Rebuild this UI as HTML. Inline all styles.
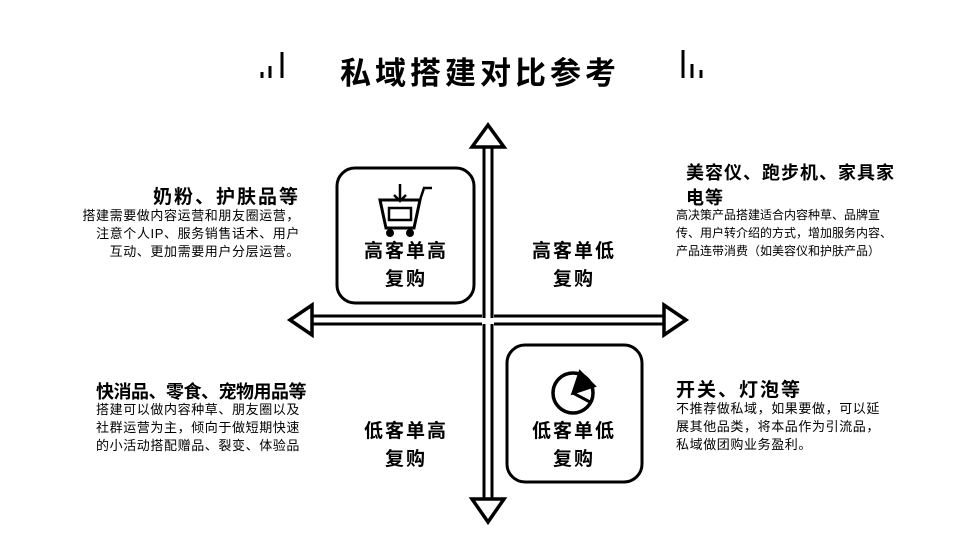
<!DOCTYPE html>
<html><head><meta charset="utf-8"><style>
body{margin:0;width:968px;height:545px;background:#fff;position:relative;overflow:hidden;font-family:"Liberation Sans","Noto Sans CJK SC",sans-serif;color:#000}
.a{position:absolute;white-space:nowrap}
.h{font-size:18px;font-weight:bold}
.b{font-size:13px;line-height:18px;letter-spacing:0.6px}
.q{font-size:19px;font-weight:bold;text-align:center;line-height:28px;width:140px;letter-spacing:2px}
</style></head><body>
<svg width="968" height="545" style="position:absolute;left:0;top:0">
<g fill="none" stroke="#000" stroke-width="3">
<line x1="484" y1="146" x2="484" y2="318"/><line x1="492" y1="146" x2="492" y2="318"/>
<line x1="484" y1="324" x2="484" y2="498"/><line x1="492" y1="324" x2="492" y2="498"/>
<line x1="312" y1="316" x2="482" y2="316"/><line x1="312" y1="324" x2="482" y2="324"/>
<line x1="494" y1="316" x2="664" y2="316"/><line x1="494" y1="324" x2="664" y2="324"/>
<polygon points="488,125 472,147 504,147" stroke-width="3.5" fill="#fff"/>
<polygon points="488,522 472,499 504,499" stroke-width="3.5" fill="#fff"/>
<polygon points="290,320 312,305 312,335" stroke-width="3.5" fill="#fff"/>
<polygon points="686,320 664,305 664,335" stroke-width="3.5" fill="#fff"/>
<rect x="337" y="168" width="137" height="135" rx="18" stroke-width="3"/>
<rect x="507" y="345" width="135" height="137" rx="18" stroke-width="3"/>
<path d="M380 200 L386 228 L414 228 L420 200 Z" stroke-width="3"/>
<rect x="389" y="208" width="22" height="12" stroke-width="2.5"/>
<path d="M420 200 L424 188 L432 188" stroke-width="2.5"/>
<circle cx="390" cy="233" r="2.5" fill="#000"/><circle cx="410" cy="233" r="2.5" fill="#000"/>
<path d="M400 184 L400 200 M394 195 L400 201 L406 195" stroke-width="2.5"/>
<circle cx="573" cy="393" r="20" stroke-width="3.5"/>
<path d="M573 393 L580 372 L594 386 Z" stroke-width="3" fill="#000"/>
<path d="M573 393 L590 402" stroke-width="3"/>
<g stroke-width="3"><line x1="262" y1="78" x2="262" y2="72"/><line x1="270" y1="78" x2="270" y2="66"/><line x1="282" y1="78" x2="282" y2="52"/>
<line x1="683" y1="78" x2="683" y2="50"/><line x1="692" y1="78" x2="692" y2="64"/><line x1="701" y1="78" x2="701" y2="70"/></g>
</g>
</svg>
<div class="a" style="left:340px;top:48px;font-size:31px;font-weight:bold;letter-spacing:4px">私域搭建对比参考</div>

<div class="a h" style="right:668px;top:182px;font-size:19px;letter-spacing:2px">奶粉、护肤品等</div>
<div class="a b" style="right:668px;top:207px;text-align:right">搭建需要做内容运营和朋友圈运营，<br>注意个人IP、服务销售话术、用户<br>互动、更加需要用户分层运营。</div>

<div class="a h" style="left:686px;top:161px;line-height:25px;letter-spacing:1px">美容仪、跑步机、家具家<br>电等</div>
<div class="a b" style="left:676px;top:206px;font-size:12px;letter-spacing:0">高决策产品搭建适合内容种草、品牌宣<br>传、用户转介绍的方式，增加服务内容、<br>产品连带消费（如美容仪和护肤产品）</div>

<div class="a h" style="left:96px;top:378px;letter-spacing:-0.5px">快消品、零食、宠物用品等</div>
<div class="a b" style="left:96px;top:401px">搭建可以做内容种草、朋友圈以及<br>社群运营为主，倾向于做短期快速<br>的小活动搭配赠品、裂变、体验品</div>

<div class="a h" style="left:676px;top:375px;font-size:19px;letter-spacing:2px">开关、灯泡等</div>
<div class="a b" style="left:676px;top:400px">不推荐做私域，如果要做，可以延<br>展其他品类，将本品作为引流品，<br>私域做团购业务盈利。</div>

<div class="a q" style="left:336px;top:238px">高客单高<br>复购</div>
<div class="a q" style="left:504px;top:238px">高客单低<br>复购</div>
<div class="a q" style="left:336px;top:418px">低客单高<br>复购</div>
<div class="a q" style="left:504px;top:418px">低客单低<br>复购</div>
</body></html>
